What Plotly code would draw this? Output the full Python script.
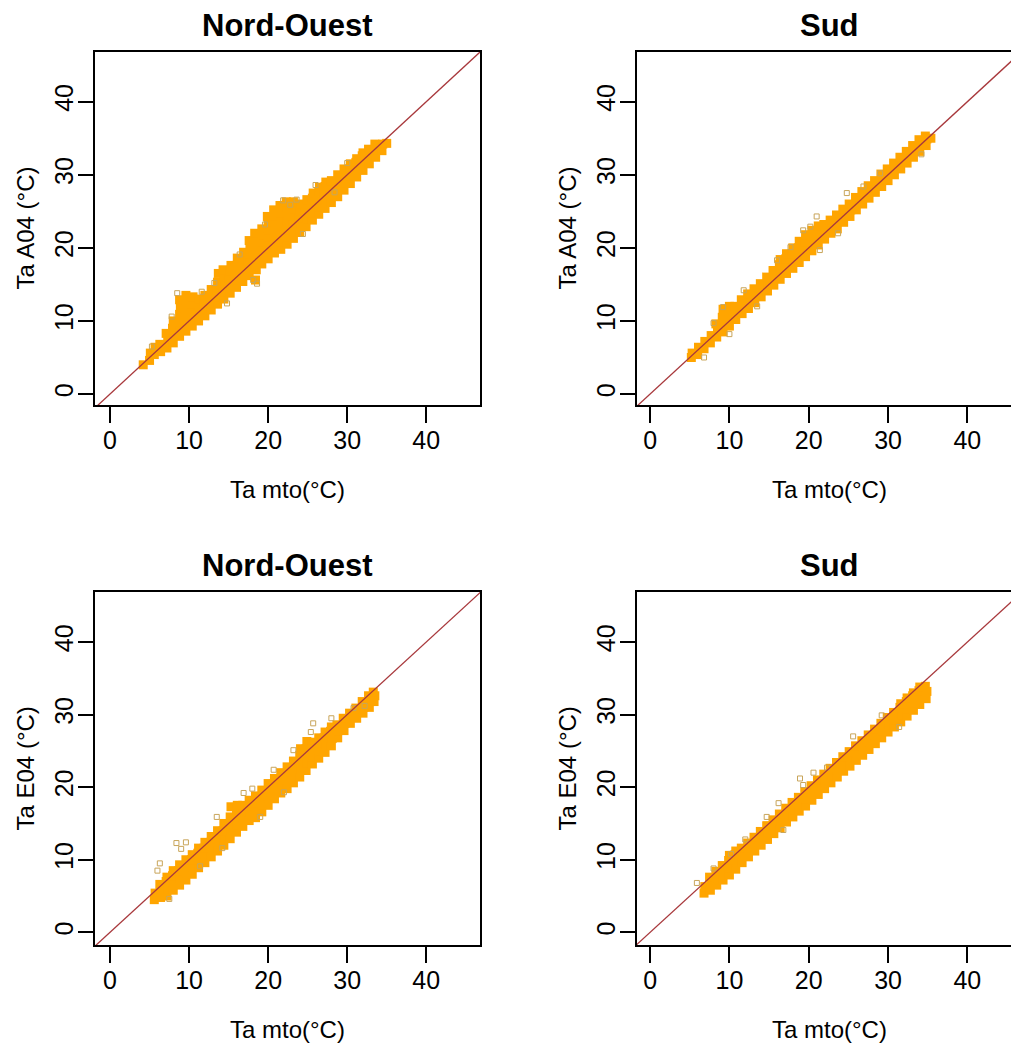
import plotly.graph_objects as go

# ---------------- data ----------------
panel_titles = ["Nord-Ouest", "Sud", "Nord-Ouest", "Sud"]
y_titles = ["Ta A04 (°C)", "Ta A04 (°C)", "Ta E04 (°C)", "Ta E04 (°C)"]
x_title = "Ta mto(°C)"
tick_vals = [0, 10, 20, 30, 40]

# Panel 1 : Nord-Ouest, A04
no_a04_x = [4.2, 5.0, 5.1, 5.6, 5.7, 6.4, 6.3, 7.2, 7.3, 7.1, 8.0, 8.1, 7.9, 8.0,
            8.8, 8.9, 8.7, 8.8, 8.9, 8.8, 9.6, 9.7, 9.5, 9.6, 9.7, 9.6,
            10.4, 10.5, 10.3, 10.4, 10.5, 11.2, 11.1, 11.3, 11.2, 12.0, 12.1, 11.9, 12.0,
            12.8, 12.7, 12.9, 12.8, 13.6, 13.7, 13.5, 13.6, 13.7, 14.4, 14.3, 14.5, 14.4, 14.3,
            15.2, 15.3, 15.1, 15.2, 15.3, 16.0, 16.1, 15.9, 16.0, 16.1, 16.8, 16.9, 16.7, 16.8, 16.9,
            17.6, 17.7, 17.5, 17.6, 17.7, 17.6, 18.4, 18.5, 18.3, 18.4, 18.5, 18.4, 18.3,
            19.2, 19.3, 19.1, 19.2, 19.3, 19.2, 20.0, 20.1, 19.9, 20.0, 20.1, 20.0, 19.9,
            20.8, 20.9, 20.7, 20.8, 20.9, 20.8, 20.7, 21.6, 21.7, 21.5, 21.6, 21.7, 21.6, 21.5,
            22.4, 22.5, 22.3, 22.4, 22.5, 22.4, 22.3, 23.2, 23.3, 23.1, 23.2, 23.3, 23.2,
            24.0, 24.1, 23.9, 24.0, 24.1, 24.8, 24.9, 24.7, 24.8, 24.9, 25.6, 25.7, 25.5, 25.6, 25.7,
            26.4, 26.5, 26.3, 26.4, 26.5, 27.2, 27.3, 27.1, 27.2, 27.3, 28.0, 28.1, 27.9, 28.0,
            28.8, 28.9, 28.7, 28.8, 29.6, 29.7, 29.5, 29.6, 30.4, 30.5, 30.3, 30.4,
            31.2, 31.3, 31.1, 31.2, 32.0, 32.1, 31.9, 32.0, 32.8, 32.9, 32.7,
            33.6, 33.7, 33.5, 34.4, 34.5, 35.0]
no_a04_y = [4.0, 4.6, 5.6, 5.4, 6.4, 5.8, 6.8, 6.3, 7.3, 8.3, 7.0, 8.0, 9.0, 10.0,
            7.9, 8.9, 9.9, 10.9, 11.9, 12.9, 8.6, 9.6, 10.6, 11.6, 12.6, 13.5,
            9.3, 10.3, 11.3, 12.3, 13.3, 10.0, 11.0, 12.0, 13.0, 10.7, 11.7, 12.7, 13.5,
            11.5, 12.5, 13.5, 14.3, 12.3, 13.3, 14.3, 15.3, 16.5, 13.0, 14.0, 15.0, 16.0, 17.0,
            13.8, 14.8, 15.8, 16.8, 17.6, 14.6, 15.6, 16.6, 17.6, 18.6, 15.4, 16.4, 17.4, 18.4, 19.4,
            16.2, 17.2, 18.2, 19.2, 20.3, 21.0, 15.6, 17.0, 18.0, 19.0, 20.0, 21.0, 22.0,
            17.8, 18.8, 19.8, 20.8, 21.8, 22.6, 18.5, 19.5, 20.5, 21.5, 22.5, 23.5, 24.3,
            19.3, 20.3, 21.3, 22.3, 23.3, 24.3, 25.2, 19.8, 20.8, 21.8, 22.8, 23.8, 24.8, 25.8,
            20.5, 21.5, 22.5, 23.5, 24.5, 25.5, 26.3, 21.3, 22.3, 23.3, 24.3, 25.3, 26.3,
            22.1, 23.1, 24.1, 25.1, 26.0, 22.9, 23.9, 24.9, 25.9, 26.6, 23.8, 24.8, 25.8, 26.8, 27.5,
            24.6, 25.6, 26.6, 27.6, 28.3, 25.4, 26.4, 27.4, 28.4, 29.0, 26.2, 27.2, 28.2, 29.2,
            27.0, 28.0, 29.0, 30.0, 27.9, 28.9, 29.9, 30.8, 28.8, 29.8, 30.8, 31.5,
            29.7, 30.7, 31.7, 32.2, 30.6, 31.6, 32.6, 33.0, 31.5, 32.5, 33.5,
            32.4, 33.4, 34.2, 33.3, 34.2, 34.3]
no_a04_out_x = [5.3, 7.8, 18.6, 18.1, 21.9, 23.6, 22.8, 30.0, 14.8, 8.5, 26.0, 11.6, 16.4, 19.6, 24.4, 28.4, 13.2]
no_a04_out_y = [6.5, 10.6, 15.1, 15.6, 26.5, 26.6, 25.9, 31.6, 12.4, 13.8, 28.6, 14.0, 19.1, 23.2, 21.9, 27.6, 15.2]

# Panel 2 : Sud, A04
sud_a04_x = [5.2, 5.3, 6.0, 6.1, 6.8, 6.9, 7.6, 7.7, 8.4, 8.5, 8.3,
             9.2, 9.3, 9.1, 9.2, 10.0, 10.1, 9.9, 10.0, 10.8, 10.9, 10.7,
             11.6, 11.7, 11.5, 12.4, 12.5, 12.3, 13.2, 13.3, 13.1, 14.0, 14.1, 13.9,
             14.8, 14.9, 14.7, 15.6, 15.7, 15.5, 16.4, 16.5, 16.3, 16.4,
             17.2, 17.3, 17.1, 17.2, 18.0, 18.1, 17.9, 18.0, 18.8, 18.9, 18.7, 18.8,
             19.6, 19.7, 19.5, 19.6, 20.4, 20.5, 20.3, 20.4, 21.2, 21.3, 21.1, 21.2,
             22.0, 22.1, 21.9, 22.8, 22.9, 22.7, 23.6, 23.7, 23.5, 24.4, 24.5, 24.3,
             25.2, 25.3, 25.1, 26.0, 26.1, 25.9, 26.8, 26.9, 26.7, 27.6, 27.7, 27.5,
             28.4, 28.5, 28.3, 29.2, 29.3, 29.1, 30.0, 30.1, 29.9, 30.8, 30.9, 30.7,
             31.6, 31.7, 31.5, 32.4, 32.5, 32.3, 33.2, 33.3, 33.1, 34.0, 34.1, 33.9,
             34.8, 34.9, 34.7, 35.4]
sud_a04_y = [5.0, 5.6, 5.4, 6.4, 6.2, 7.2, 7.0, 8.0, 7.8, 8.8, 9.6,
             8.5, 9.5, 10.5, 11.6, 9.3, 10.3, 11.3, 12.0, 10.2, 11.2, 12.0,
             11.0, 12.0, 12.9, 11.7, 12.7, 13.7, 12.5, 13.5, 14.4, 13.3, 14.3, 15.1,
             14.1, 15.1, 16.0, 14.9, 15.9, 16.9, 15.7, 16.7, 17.7, 18.4,
             16.5, 17.5, 18.5, 19.2, 17.2, 18.2, 19.2, 20.0, 18.0, 19.0, 20.0, 20.9,
             18.8, 19.8, 20.8, 21.8, 19.6, 20.6, 21.6, 22.4, 20.4, 21.4, 22.4, 23.0,
             21.2, 22.2, 23.2, 22.0, 23.0, 23.8, 22.6, 23.6, 24.5, 23.5, 24.4, 25.3,
             24.3, 25.2, 26.0, 25.2, 26.1, 26.9, 26.0, 26.9, 27.7, 26.8, 27.7, 28.5,
             27.6, 28.5, 29.2, 28.4, 29.3, 30.1, 29.2, 30.1, 30.8, 30.0, 30.9, 31.6,
             30.8, 31.7, 32.4, 31.6, 32.5, 33.2, 32.4, 33.3, 34.0, 33.2, 34.1, 34.8,
             34.0, 34.9, 35.3, 35.0]
sud_a04_out_x = [8.0, 9.2, 11.8, 16.0, 17.7, 19.3, 21.0, 24.8, 26.9, 21.4, 23.7, 6.8, 29.0, 10.0, 13.5, 20.2, 34.2]
sud_a04_out_y = [9.7, 11.9, 14.2, 18.3, 20.1, 22.4, 24.3, 27.5, 28.4, 19.7, 22.0, 5.0, 30.2, 8.2, 12.0, 22.9, 32.8]

# Panel 3 : Nord-Ouest, E04
no_e04_x = [5.6, 5.7, 6.4, 6.5, 6.3, 7.2, 7.3, 7.1, 7.2, 8.0, 8.1, 7.9, 8.0,
            8.8, 8.9, 8.7, 8.8, 9.6, 9.7, 9.5, 9.6, 10.4, 10.5, 10.3, 10.4,
            11.2, 11.3, 11.1, 11.2, 12.0, 12.1, 11.9, 12.0, 12.8, 12.9, 12.7, 12.8,
            13.6, 13.7, 13.5, 13.6, 14.4, 14.5, 14.3, 14.4,
            15.2, 15.3, 15.1, 15.2, 15.3, 16.0, 16.1, 15.9, 16.0, 16.1,
            16.8, 16.9, 16.7, 16.8, 17.6, 17.7, 17.5, 17.6, 18.4, 18.5, 18.3, 18.4,
            19.2, 19.3, 19.1, 19.2, 20.0, 20.1, 19.9, 20.0, 20.8, 20.9, 20.7, 20.8,
            21.6, 21.7, 21.5, 21.6, 22.4, 22.5, 22.3, 22.4, 23.2, 23.3, 23.1, 23.2,
            24.0, 24.1, 23.9, 24.0, 24.1, 24.8, 24.9, 24.7, 24.8, 24.9,
            25.6, 25.7, 25.5, 25.6, 26.4, 26.5, 26.3, 26.4, 27.2, 27.3, 27.1, 27.2,
            28.0, 28.1, 27.9, 28.0, 28.8, 28.9, 28.7, 29.6, 29.7, 29.5,
            30.4, 30.5, 30.3, 31.2, 31.3, 31.1, 32.0, 32.1, 31.9, 32.8, 32.9, 32.7,
            33.4, 33.5, 33.3]
no_e04_y = [4.5, 5.4, 4.8, 5.8, 6.6, 5.0, 6.0, 7.0, 7.6, 5.8, 6.8, 7.8, 8.5,
            6.5, 7.5, 8.5, 9.3, 7.2, 8.2, 9.2, 10.0, 8.0, 9.0, 10.0, 10.7,
            8.9, 9.9, 10.9, 11.6, 9.6, 10.6, 11.6, 12.4, 10.4, 11.4, 12.4, 13.2,
            11.2, 12.2, 13.2, 14.0, 12.0, 13.0, 14.0, 15.0,
            12.9, 13.9, 14.9, 15.9, 17.3, 13.8, 14.8, 15.8, 16.8, 17.5,
            14.6, 15.6, 16.6, 17.5, 15.4, 16.4, 17.4, 18.2, 15.8, 16.8, 17.8, 18.8,
            16.6, 17.6, 18.6, 19.6, 17.5, 18.5, 19.5, 20.5, 18.4, 19.4, 20.4, 21.2,
            19.2, 20.2, 21.2, 22.0, 19.8, 20.8, 21.8, 22.8, 20.6, 21.6, 22.6, 23.6,
            21.4, 22.4, 23.4, 24.4, 25.3, 22.3, 23.3, 24.3, 25.3, 26.3,
            23.2, 24.2, 25.2, 26.2, 24.0, 25.0, 26.0, 26.8, 24.8, 25.8, 26.8, 27.6,
            25.7, 26.7, 27.7, 28.3, 26.8, 27.8, 28.6, 27.8, 28.8, 29.5,
            28.8, 29.6, 30.2, 29.5, 30.3, 30.9, 30.2, 31.0, 31.8, 31.0, 31.8, 32.6,
            31.8, 32.6, 33.1]
no_e04_out_x = [6.3, 6.0, 8.4, 9.6, 9.0, 13.5, 16.9, 20.7, 23.2, 25.7, 25.4, 18.0, 28.0, 19.0, 7.5, 11.4, 30.8, 32.2, 14.2, 22.0]
no_e04_out_y = [9.5, 8.5, 12.3, 12.4, 11.5, 15.9, 19.2, 22.4, 25.1, 28.8, 27.6, 19.8, 29.5, 15.9, 4.6, 9.1, 30.9, 31.2, 11.6, 19.3]

# Panel 4 : Sud, E04
sud_e04_x = [6.8, 6.9, 7.6, 7.7, 7.5, 8.4, 8.5, 8.3, 9.2, 9.3, 9.1,
             10.0, 10.1, 9.9, 10.0, 10.8, 10.9, 10.7, 10.8, 11.6, 11.7, 11.5,
             12.4, 12.5, 12.3, 13.2, 13.3, 13.1, 14.0, 14.1, 13.9, 14.8, 14.9, 14.7,
             15.6, 15.7, 15.5, 16.4, 16.5, 16.3, 17.2, 17.3, 17.1, 18.0, 18.1, 17.9,
             18.8, 18.9, 18.7, 19.6, 19.7, 19.5, 20.4, 20.5, 20.3, 21.2, 21.3, 21.1,
             22.0, 22.1, 21.9, 22.8, 22.9, 22.7, 23.6, 23.7, 23.5, 24.4, 24.5, 24.3,
             25.2, 25.3, 25.1, 26.0, 26.1, 25.9, 26.8, 26.9, 26.7, 27.6, 27.7, 27.5,
             28.4, 28.5, 28.3, 29.2, 29.3, 29.1, 30.0, 30.1, 29.9, 30.8, 30.9, 30.7,
             31.6, 31.7, 31.5, 31.6, 32.4, 32.5, 32.3, 32.4, 33.2, 33.3, 33.1, 33.2,
             34.0, 34.1, 33.9, 34.0, 34.8, 34.9, 34.7]
sud_e04_y = [5.4, 6.3, 5.8, 6.8, 7.6, 6.5, 7.5, 8.4, 7.2, 8.2, 9.2,
             7.9, 8.9, 9.9, 10.6, 8.7, 9.7, 10.7, 11.2, 9.6, 10.6, 11.6,
             10.4, 11.4, 12.3, 11.2, 12.2, 13.1, 12.0, 13.0, 13.9, 12.8, 13.8, 14.7,
             13.6, 14.6, 15.5, 14.4, 15.4, 16.3, 15.2, 16.2, 17.1, 15.9, 16.9, 17.9,
             16.7, 17.7, 18.6, 17.4, 18.4, 19.4, 18.2, 19.2, 20.2, 19.0, 20.0, 21.0,
             19.8, 20.8, 21.8, 20.6, 21.6, 22.6, 21.4, 22.4, 23.4, 22.2, 23.2, 24.2,
             22.9, 23.9, 24.9, 23.7, 24.7, 25.7, 24.4, 25.4, 26.4, 25.2, 26.2, 27.2,
             26.0, 27.0, 28.0, 26.8, 27.8, 28.8, 27.6, 28.6, 29.6, 28.3, 29.3, 30.3,
             29.0, 30.0, 31.0, 31.5, 29.8, 30.8, 31.8, 32.3, 30.6, 31.6, 32.6, 33.0,
             31.4, 32.4, 33.3, 33.8, 32.2, 33.2, 33.9]
sud_e04_out_x = [5.9, 14.7, 16.2, 18.9, 19.3, 20.6, 25.6, 16.8, 29.2, 12.0, 10.2, 8.0, 22.3, 31.4]
sud_e04_out_y = [6.8, 15.9, 17.8, 21.2, 20.3, 22.0, 27.0, 14.1, 29.9, 12.8, 10.8, 8.8, 22.7, 28.3]

# ---------------- figure ----------------
W, H = 1011, 1043
core_x = [no_a04_x, sud_a04_x, no_e04_x, sud_e04_x]
core_y = [no_a04_y, sud_a04_y, no_e04_y, sud_e04_y]
out_x = [no_a04_out_x, sud_a04_out_x, no_e04_out_x, sud_e04_out_x]
out_y = [no_a04_out_y, sud_a04_out_y, no_e04_out_y, sud_e04_out_y]
for a, b in zip(core_x + out_x, core_y + out_y):
    assert len(a) == len(b), (len(a), len(b))

# pixel boxes of each panel (left, right, top, bottom)
boxes = [(95, 480, 52, 405), (637, 1011, 52, 405), (95, 480, 592, 945), (637, 1011, 592, 945)]
xranges = [[-1.9, 46.8], [-1.65, 45.5], [-1.9, 46.8], [-1.65, 45.5]]
yranges = [[-1.5, 46.8], [-1.5, 46.8], [-1.75, 46.9], [-1.75, 46.9]]
# centre of the full (unclipped) plot region, for titles
centers = [287.5, 829, 287.5, 829]

ORANGE = "#FFA500"
LINE_COL = "#a8383c"
FONT = "Liberation Sans, Arial, sans-serif"

fig = go.Figure()
layout = dict(width=W, height=H, autosize=False, margin=dict(l=0, r=0, t=0, b=0),
              paper_bgcolor="white", plot_bgcolor="white", showlegend=False,
              font=dict(family=FONT, color="black"))
annotations = []
for i in range(4):
    k = "" if i == 0 else str(i + 1)
    xa, ya = "x" + k, "y" + k
    fig.add_trace(go.Scatter(x=core_x[i], y=core_y[i], mode="markers", xaxis=xa, yaxis=ya,
                             marker=dict(symbol="square", size=9, color=ORANGE,
                                         line=dict(width=0)), hoverinfo="x+y"))
    fig.add_trace(go.Scatter(x=out_x[i], y=out_y[i], mode="markers", xaxis=xa, yaxis=ya,
                             marker=dict(symbol="square-open", size=5, color="#c8a55a",
                                         line=dict(width=1)), hoverinfo="x+y"))
    lo, hi = min(xranges[i][0], yranges[i][0]), max(xranges[i][1], yranges[i][1])
    fig.add_trace(go.Scatter(x=[lo, hi], y=[lo, hi], mode="lines", xaxis=xa, yaxis=ya,
                             line=dict(color=LINE_COL, width=1.3), hoverinfo="skip"))
    l, r, t, b = boxes[i]
    right_panel = i in (1, 3)
    layout["xaxis" + k] = dict(domain=[l / W, r / W], range=xranges[i], anchor=ya,
                               showgrid=False, zeroline=False, showline=True,
                               linecolor="black", linewidth=1.6, mirror=True,
                               ticks="outside", ticklen=16, tickwidth=1.5, tickcolor="black",
                               tickvals=tick_vals, ticklabelstandoff=-4,
                               tickfont=dict(size=25, family=FONT))
    layout["yaxis" + k] = dict(domain=[1 - b / H, 1 - t / H], range=yranges[i], anchor=xa,
                               showgrid=False, zeroline=False, showline=True,
                               linecolor="black", linewidth=1.6, mirror=not right_panel,
                               ticks="outside", ticklen=15, tickwidth=1.5, tickcolor="black",
                               tickvals=tick_vals, tickangle=-90, ticklabelstandoff=-5,
                               tickfont=dict(size=25, family=FONT))
    # panel title
    annotations.append(dict(text="<b>" + panel_titles[i] + "</b>", x=centers[i] / W,
                            y=1 - (t - 27) / H, xref="paper", yref="paper",
                            xanchor="center", yanchor="middle", showarrow=False,
                            font=dict(size=31, family=FONT, color="black")))
    # x-axis title
    annotations.append(dict(text=x_title, x=centers[i] / W, y=1 - (b + 84) / H,
                            xref="paper", yref="paper", xanchor="center", yanchor="middle",
                            showarrow=False, font=dict(size=24, family=FONT, color="black")))
    # y-axis title
    annotations.append(dict(text=y_titles[i], x=(l - 70) / W, y=1 - ((t + b) / 2) / H,
                            xref="paper", yref="paper", xanchor="center", yanchor="middle",
                            textangle=-90, showarrow=False,
                            font=dict(size=24, family=FONT, color="black")))
layout["annotations"] = annotations
fig.update_layout(**layout)
fig.write_html("out.html")
